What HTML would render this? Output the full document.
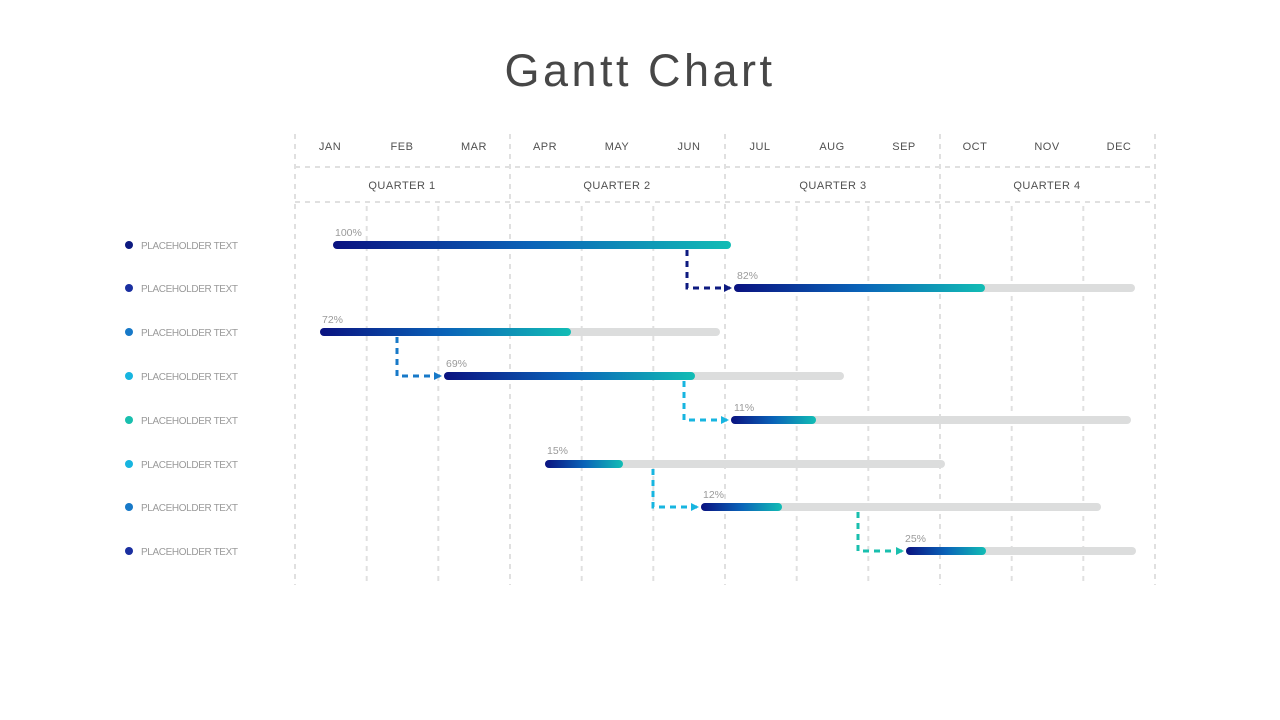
<!DOCTYPE html>
<html><head><meta charset="utf-8"><style>
html,body{margin:0;padding:0;background:#fff;}
svg{display:block;font-family:"Liberation Sans",sans-serif;}
</style></head><body>
<svg width="1280" height="720" viewBox="0 0 1280 720" xmlns="http://www.w3.org/2000/svg">
<defs>
<linearGradient id="g" x1="0" x2="1" y1="0" y2="0">
<stop offset="0" stop-color="#0a1280"/><stop offset="0.5" stop-color="#0a63b8"/><stop offset="1" stop-color="#12bdb5"/>
</linearGradient>
<marker id="a1" markerWidth="8" markerHeight="8" refX="6" refY="4" orient="auto" markerUnits="userSpaceOnUse"><path d="M0,0 L8,4 L0,8z" fill="#0d1a80"/></marker>
<marker id="a2" markerWidth="8" markerHeight="8" refX="6" refY="4" orient="auto" markerUnits="userSpaceOnUse"><path d="M0,0 L8,4 L0,8z" fill="#1779c8"/></marker>
<marker id="a3" markerWidth="8" markerHeight="8" refX="6" refY="4" orient="auto" markerUnits="userSpaceOnUse"><path d="M0,0 L8,4 L0,8z" fill="#17b5e0"/></marker>
<marker id="a4" markerWidth="8" markerHeight="8" refX="6" refY="4" orient="auto" markerUnits="userSpaceOnUse"><path d="M0,0 L8,4 L0,8z" fill="#19bfae"/></marker>
</defs>
<text x="640" y="86" text-anchor="middle" font-size="45" fill="#474747" letter-spacing="3.5">Gantt Chart</text>

<g stroke="#e0e0e0" stroke-width="2" stroke-dasharray="5,5" fill="none">
<line x1="295" y1="134" x2="295" y2="585"/>
<line x1="510" y1="134" x2="510" y2="585"/>
<line x1="725" y1="134" x2="725" y2="585"/>
<line x1="940" y1="134" x2="940" y2="585"/>
<line x1="1155" y1="134" x2="1155" y2="585"/>
<line x1="366.7" y1="206" x2="366.7" y2="585"/>
<line x1="438.3" y1="206" x2="438.3" y2="585"/>
<line x1="581.7" y1="206" x2="581.7" y2="585"/>
<line x1="653.3" y1="206" x2="653.3" y2="585"/>
<line x1="796.7" y1="206" x2="796.7" y2="585"/>
<line x1="868.3" y1="206" x2="868.3" y2="585"/>
<line x1="1011.7" y1="206" x2="1011.7" y2="585"/>
<line x1="1083.3" y1="206" x2="1083.3" y2="585"/>
<line x1="295" y1="167" x2="1155" y2="167"/>
<line x1="295" y1="202" x2="1155" y2="202"/>
</g>

<g font-size="11" fill="#505050" text-anchor="middle" letter-spacing="0.5">
<text x="330" y="150">JAN</text><text x="402" y="150">FEB</text><text x="474" y="150">MAR</text>
<text x="545" y="150">APR</text><text x="617" y="150">MAY</text><text x="689" y="150">JUN</text>
<text x="760" y="150">JUL</text><text x="832" y="150">AUG</text><text x="904" y="150">SEP</text>
<text x="975" y="150">OCT</text><text x="1047" y="150">NOV</text><text x="1119" y="150">DEC</text>
<text x="402" y="189">QUARTER 1</text><text x="617" y="189">QUARTER 2</text>
<text x="833" y="189">QUARTER 3</text><text x="1047" y="189">QUARTER 4</text>
</g>

<g font-size="10" fill="#9a9a9a">
<circle cx="129" cy="245" r="4" fill="#0d1a80"/><text x="141" y="249" textLength="97">PLACEHOLDER TEXT</text>
<circle cx="129" cy="288" r="4" fill="#1a2fa0"/><text x="141" y="292" textLength="97">PLACEHOLDER TEXT</text>
<circle cx="129" cy="332" r="4" fill="#1779c8"/><text x="141" y="336" textLength="97">PLACEHOLDER TEXT</text>
<circle cx="129" cy="376" r="4" fill="#17b5e0"/><text x="141" y="380" textLength="97">PLACEHOLDER TEXT</text>
<circle cx="129" cy="420" r="4" fill="#19bfae"/><text x="141" y="424" textLength="97">PLACEHOLDER TEXT</text>
<circle cx="129" cy="464" r="4" fill="#17b5e0"/><text x="141" y="468" textLength="97">PLACEHOLDER TEXT</text>
<circle cx="129" cy="507" r="4" fill="#1779c8"/><text x="141" y="511" textLength="97">PLACEHOLDER TEXT</text>
<circle cx="129" cy="551" r="4" fill="#1a2fa0"/><text x="141" y="555" textLength="97">PLACEHOLDER TEXT</text>
</g>

<g stroke-linecap="round" stroke-width="8">
<line x1="738" y1="288" x2="1131" y2="288" stroke="#dcdddd"/>
<line x1="324" y1="332" x2="716" y2="332" stroke="#dcdddd"/>
<line x1="448" y1="376" x2="840" y2="376" stroke="#dcdddd"/>
<line x1="735" y1="420" x2="1127" y2="420" stroke="#dcdddd"/>
<line x1="549" y1="464" x2="941" y2="464" stroke="#dcdddd"/>
<line x1="705" y1="507" x2="1097" y2="507" stroke="#dcdddd"/>
<line x1="910" y1="551" x2="1132" y2="551" stroke="#dcdddd"/>
</g>
<g fill="url(#g)">
<rect x="333" y="241" width="398" height="8" rx="4"/>
<rect x="734" y="284" width="251" height="8" rx="4"/>
<rect x="320" y="328" width="251" height="8" rx="4"/>
<rect x="444" y="372" width="251" height="8" rx="4"/>
<rect x="731" y="416" width="85" height="8" rx="4"/>
<rect x="545" y="460" width="78" height="8" rx="4"/>
<rect x="701" y="503" width="81" height="8" rx="4"/>
<rect x="906" y="547" width="80" height="8" rx="4"/>
</g>

<g fill="none" stroke-width="3" stroke-dasharray="6,5">
<path d="M687 250 V288 H730" stroke="#0d1a80" marker-end="url(#a1)"/>
<path d="M397 337 V376 H440" stroke="#1779c8" marker-end="url(#a2)"/>
<path d="M684 381 V420 H727" stroke="#17b5e0" marker-end="url(#a3)"/>
<path d="M653 469 V507 H697" stroke="#17b5e0" marker-end="url(#a3)"/>
<path d="M858 512 V551 H902" stroke="#19bfae" marker-end="url(#a4)"/>
</g>

<g font-size="10.5" fill="#9a9a9a">
<text x="335" y="236">100%</text>
<text x="737" y="279">82%</text>
<text x="322" y="323">72%</text>
<text x="446" y="367">69%</text>
<text x="734" y="411">11%</text>
<text x="547" y="454">15%</text>
<text x="703" y="498">12%</text>
<text x="905" y="542">25%</text>
</g>
</svg>
</body></html>
